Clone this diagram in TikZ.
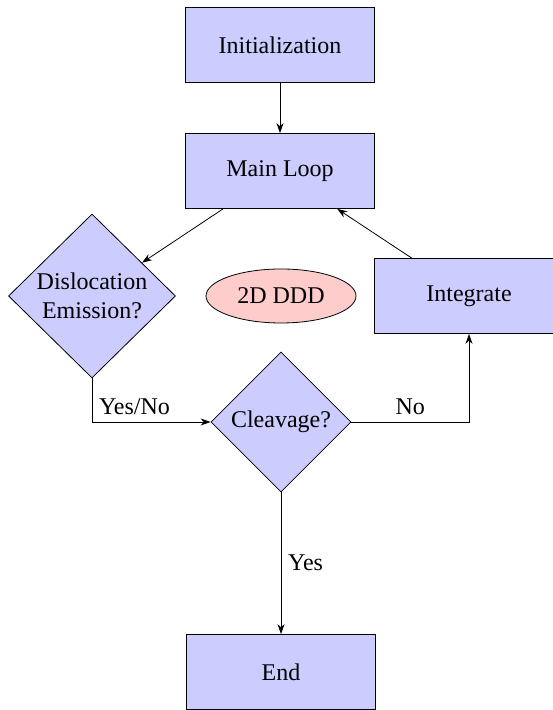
\documentclass[tikz,border=0pt]{standalone}
\usepackage{fontspec}
\setmainfont{Liberation Serif}
\usepackage{tikz}
\usetikzlibrary{shapes.geometric,arrows.meta,positioning}
\definecolor{boxc}{HTML}{CCCCFF}
\definecolor{notec}{HTML}{FFCCCC}
\tikzset{
  txt/.style={font=\fontsize{12}{14.5}\selectfont},
  proc/.style={txt,rectangle,draw=black,fill=boxc,minimum width=94.5pt,minimum height=37.5pt},
  decide/.style={txt,diamond,draw=black,fill=boxc,inner sep=0pt,align=center},
  note/.style={txt,ellipse,draw=black,fill=notec,minimum width=75pt,minimum height=27pt},
  flow/.style={draw=black,-{Stealth[length=5pt,width=3.5pt]}},
  lbl/.style={txt},
}

\begin{document}
\begin{tikzpicture}[x=0.5pt,y=0.5pt]
  \useasboundingbox (0,0) rectangle (552,710);
  % ---------- blocks ----------
  \node[proc] (init) at (280,665) {Initialization};
  \node[proc] (mainloop) at (280,539) {Main Loop};
  \node[decide,minimum width=83.5pt,minimum height=82pt] (disloc) at (92,414) {Dislocation\\Emission?};
  \node[note] (ddd) at (281,414) {2D DDD};
  \node[proc] (integ) at (469,414) {Integrate};
  \node[decide,minimum width=70pt,minimum height=70pt] (cleav) at (281,288) {Cleavage?};
  \node[proc] (finish) at (281,38) {End};
  % ---------- connectors ----------
  \draw[flow] (init) -- (mainloop);
  \draw[flow] (mainloop) -- (disloc);
  \draw[flow] (integ) -- (mainloop);
  \draw[flow] (disloc) |- node[pos=0.5,above right,lbl] {Yes/No} (cleav);
  \draw[flow] (cleav) -| node[pos=0.25,above,lbl] {No} (integ);
  \draw[flow] (cleav) -- node[right,lbl] {Yes} (finish);
\end{tikzpicture}
\end{document}
